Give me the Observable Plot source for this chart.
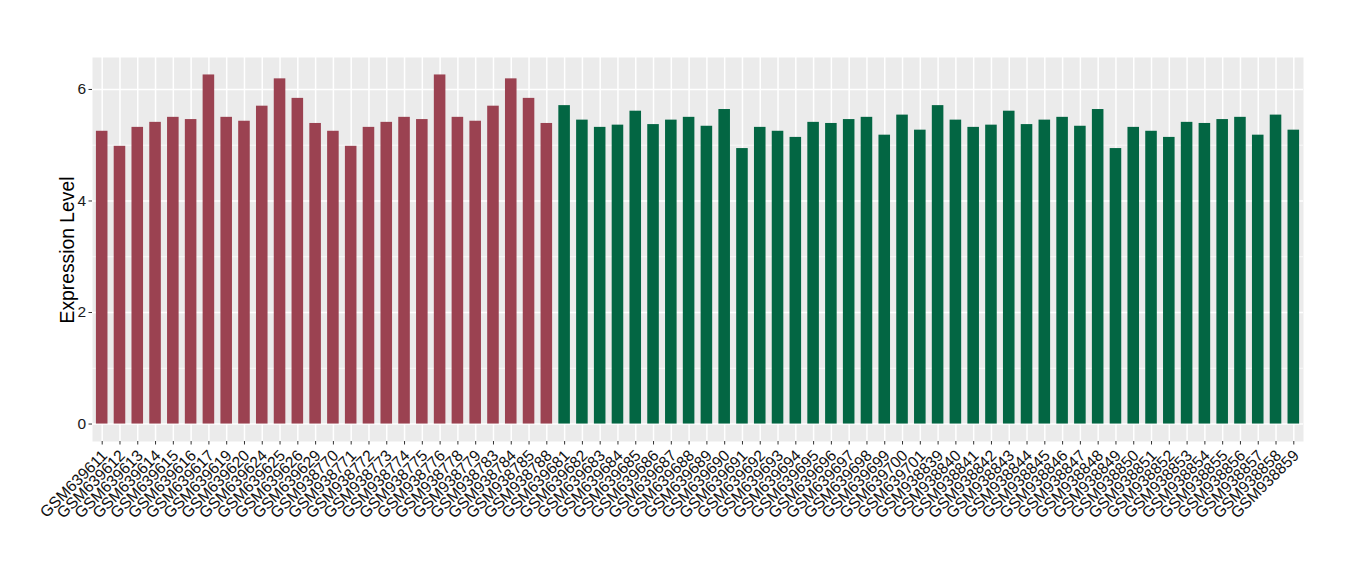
<!DOCTYPE html>
<html>
<head>
<meta charset="utf-8">
<script src="https://cdn.jsdelivr.net/npm/d3@7"></script>
<script src="https://cdn.jsdelivr.net/npm/@observablehq/plot@0.6"></script>
<style>
  html, body { margin: 0; padding: 0; background: #fff; }
  #chart { width: 1360px; height: 580px; }
  #chart svg { font-family: "Liberation Sans", Arial, Helvetica, sans-serif; }
</style>
</head>
<body>
<div id="chart"></div>
<script>
const samples = [
  "GSM639611","GSM639612","GSM639613","GSM639614","GSM639615","GSM639616","GSM639617","GSM639619","GSM639620","GSM639624","GSM639625","GSM639626","GSM639629",
  "GSM938770","GSM938771","GSM938772","GSM938773","GSM938774","GSM938775","GSM938776","GSM938778","GSM938779","GSM938783","GSM938784","GSM938785","GSM938788",
  "GSM639681","GSM639682","GSM639683","GSM639684","GSM639685","GSM639686","GSM639687","GSM639688","GSM639689","GSM639690","GSM639691","GSM639692","GSM639693","GSM639694","GSM639695","GSM639696","GSM639697","GSM639698","GSM639699","GSM639700","GSM639701",
  "GSM938839","GSM938840","GSM938841","GSM938842","GSM938843","GSM938844","GSM938845","GSM938846","GSM938847","GSM938848","GSM938849","GSM938850","GSM938851","GSM938852","GSM938853","GSM938854","GSM938855","GSM938856","GSM938857","GSM938858","GSM938859"
];
const values = [
  5.25,4.98,5.32,5.41,5.50,5.46,6.26,5.50,5.43,5.70,6.19,5.84,5.39,
  5.25,4.98,5.32,5.41,5.50,5.46,6.26,5.50,5.43,5.70,6.19,5.84,5.39,
  5.71,5.45,5.32,5.36,5.61,5.37,5.45,5.50,5.34,5.64,4.94,5.32,5.25,5.14,5.41,5.39,5.46,5.50,5.18,5.54,5.27,
  5.71,5.45,5.32,5.36,5.61,5.37,5.45,5.50,5.34,5.64,4.94,5.32,5.25,5.14,5.41,5.39,5.46,5.50,5.18,5.54,5.27
];
const groups = [
  ...Array(26).fill("A"),
  ...Array(42).fill("B")
];
const groupColors = { A: "#9B4251", B: "#036643" };
const yMajor = [0, 2, 4, 6];
const yMinor = [1, 3, 5];

const data = samples.map((s, i) => ({ sample: s, value: values[i], group: groups[i] }));
const yMax = d3.max(values);
const yDomain = [-0.05 * yMax, yMax * 1.05];

const chart = Plot.plot({
  width: 1360,
  height: 580,
  marginLeft: 92,
  marginRight: 57,
  marginTop: 57,
  marginBottom: 139,
  style: { fontFamily: '"Liberation Sans", Arial, Helvetica, sans-serif', background: "#fff" },
  x: { type: "band", domain: samples, paddingInner: 0.35, paddingOuter: 0.22, axis: null },
  y: { domain: yDomain, axis: null },
  color: { domain: Object.keys(groupColors), range: Object.values(groupColors) },
  marks: [
    Plot.frame({ fill: "#EBEBEB", stroke: null }),
    Plot.ruleY(yMinor, { stroke: "#fff", strokeWidth: 0.7 }),
    Plot.ruleY(yMajor, { stroke: "#fff", strokeWidth: 1.5 }),
    Plot.tickX(samples, { x: d => d, stroke: "#fff", strokeWidth: 1.5 }),
    Plot.barY(data, { x: "sample", y: "value", fill: "group" }),
    Plot.axisY(yMajor, {
      tickSize: 3.5, tickPadding: 3, stroke: "#333", fill: "#1a1a1a",
      tickFormat: d3.format("d"), label: null, fontSize: 15.5
    }),
    Plot.axisX({
      tickSize: 3.5, tickFormat: () => "", stroke: "#333", label: null
    }),
    Plot.text(samples, {
      x: d => d, text: d => d, frameAnchor: "bottom",
      rotate: -45, textAnchor: "end", lineAnchor: "middle",
      dx: 2.5, dy: 11.5, fill: "#111", fontSize: 15.8
    })
  ]
});

const svg = d3.select(chart);
svg.append("text")
  .attr("transform", "translate(73.5,250) rotate(-90)")
  .attr("text-anchor", "middle")
  .attr("fill", "#000")
  .attr("font-size", 19.3)
  .text("Expression Level");

document.getElementById("chart").appendChild(chart);
</script>
</body>
</html>
